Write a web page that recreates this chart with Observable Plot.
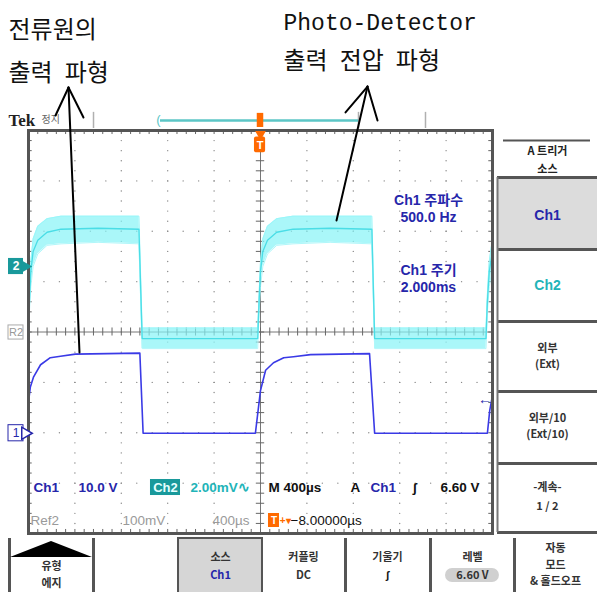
<!DOCTYPE html>
<html><head><meta charset="utf-8">
<script src="https://cdn.jsdelivr.net/npm/d3@7"></script>
<script src="https://cdn.jsdelivr.net/npm/@observablehq/plot@0.6"></script>
<style>html,body{margin:0;padding:0;background:#fff;} #chart svg{display:block;overflow:visible}</style>
</head><body><div id="chart"></div>
<script>
// ===== Trace data (x: screen divisions, 400 µs/div, 0 = trigger; y: screen divisions) =====
const ch1Time = [-5.0, -4.96, -4.89, -4.74, -4.53, -4.31, -3.99, -2.6, -2.53, -0.11, 0.0, 0.11, 0.28, 0.5, 0.71, 1.08, 2.35, 2.46, 4.89, 4.94, 5.0];
const ch1Div  = [-1.39, -1.09, -0.89, -0.65, -0.51, -0.48, -0.44, -0.42, -2.01, -2.01, -1.16, -0.76, -0.61, -0.51, -0.49, -0.45, -0.43, -2.01, -2.01, -1.56, -1.26];

const ch2Time  = [-5.0, -4.98, -4.95, -4.9, -4.8, -4.6, -4.3, -3.5, -2.62, -2.55, -0.06, -0.03, 0.0, 0.05, 0.15, 0.35, 0.7, 1.5, 2.4, 2.46, 4.86, 4.89, 4.93, 5.0];
const ch2Mean  = [-0.13, 0.6, 1.2, 1.6, 1.82, 1.98, 2.04, 2.06, 2.04, -0.13, -0.13, 0.6, 1.2, 1.6, 1.82, 1.98, 2.04, 2.06, 2.04, -0.13, -0.13, 0.6, 1.2, 1.6];
const ch2Upper = [0.08, 0.75, 1.4, 1.85, 2.1, 2.25, 2.3, 2.3, 2.3, 0.08, 0.08, 0.75, 1.4, 1.85, 2.1, 2.25, 2.3, 2.3, 2.3, 0.08, 0.08, 0.75, 1.4, 1.85];
const ch2Lower = [-0.33, 0.4, 0.9, 1.3, 1.55, 1.72, 1.75, 1.78, 1.75, -0.33, -0.33, 0.4, 0.9, 1.3, 1.55, 1.72, 1.75, 1.78, 1.75, -0.33, -0.33, 0.4, 0.9, 1.3];

// ===== Readouts / labels (text, x, y, colour) =====
const BLUE = "#2626aa", CYAN = "#22b4b8", TEAL = "#19999b", ORANGE = "#ff6a00", GRAY = "#9a9a9a";
const annotations = [["전류원의", -5.431, 5.985], ["출력\u2002파형", -5.431, 5.132], ["출력\u2002전압\u2002파형", 0.496, 5.37]];
const pdLabel = [["Photo-Detector", 0.496, 6.144]];
const measureLabels = [["Ch1 주파수", 3.621, 2.61], ["500.0 Hz", 3.621, 2.273], ["Ch1 주기", 3.621, 1.221], ["2.000ms", 3.621, 0.883]];
const readoutRow1 = [["Ch1", -4.892, -3.087, BLUE], ["10.0 V", -3.922, -3.087, BLUE], ["2.00mV∿", -1.509, -3.087, CYAN],
  ["M 400µs", 0.172, -3.087, "#111"], ["A", 1.94, -3.087, "#111"], ["Ch1", 2.37, -3.087, BLUE], ["ʃ", 3.276, -3.087, "#111"], ["6.60 V", 3.879, -3.087, "#111"]];
const readoutRow2 = [["Ref2", -4.957, -3.742, GRAY], ["100mV", -2.974, -3.742, GRAY], ["400µs", -1.034, -3.742, GRAY], ["−8.00000µs", 0.647, -3.742, "#111"]];
const sideLabels = [["A 트리거", 6.185, 3.58, "#222"], ["소스", 6.185, 3.23, "#222"], ["외부", 6.185, -0.32, "#333"], ["(Ext)", 6.185, -0.65, "#333"],
  ["외부/10", 6.185, -1.71, "#333"], ["(Ext/10)", 6.185, -2.04, "#333"], ["-계속-", 6.185, -3.08, "#333"], ["1 / 2", 6.185, -3.47, "#333"]];
const sideChannels = [["Ch1", 6.185, 2.313, BLUE], ["Ch2", 6.185, 0.923, CYAN]];
const bottomLabels = [["유형", -4.504, -4.66, "#333"], ["에지", -4.504, -5.0, "#333"], ["소스", -0.862, -4.48, "#333"], ["Ch1", -0.862, -4.84, BLUE],
  ["커플링", 0.927, -4.48, "#333"], ["DC", 0.927, -4.84, "#333"], ["기울기", 2.737, -4.48, "#333"], ["ʃ", 2.737, -4.84, "#111"],
  ["레벨", 4.569, -4.48, "#333"], ["6.60 V", 4.569, -4.84, "#333"], ["자동", 6.358, -4.29, "#333"], ["모드", 6.358, -4.625, "#333"], ["& 홀드오프", 6.358, -4.96, "#333"]];

// ===== Screen chrome layout (in divisions) =====
const sideSeparators = [1.638, 0.208, -1.181, -2.61, -3.98];
const bottomSeparators = [-5.409, -3.599, 1.832, 3.664, 5.474];
const topMarks = [-3.599, 2.112, 3.556];
const arrowSegments = [
  [[-4.138, 4.854], [-4.418, 4.298]], [[-4.138, 4.854], [-3.815, 4.258]], [[-4.138, 4.854], [-3.901, -0.407]],
  [[2.306, 4.873], [1.832, 4.358]], [[2.306, 4.873], [2.522, 4.199]], [[2.306, 4.873], [1.638, 2.213]]
];

// ---- derived tables ----
const ch1 = ch1Time.map((t, i) => ({t, v: ch1Div[i]}));
const ch2 = ch2Time.map((t, i) => ({t, m: ch2Mean[i], hi: ch2Upper[i], lo: ch2Lower[i]}));
const arrows = arrowSegments.flatMap((s, k) => s.map(([x, y]) => ({x, y, k})));
const minorX = d3.range(-5, 5.001, 0.2), minorY = d3.range(-4, 4.001, 0.2);
const gridV = [-4, -3, -2, -1, 1, 2, 3, 4].flatMap(x => minorY.map(y => ({x, y})));
const gridH = [-3, -2, -1, 1, 2, 3].flatMap(y => d3.range(-5, 5.001, 1/3).map(x => ({x, y})));

const KR = "'Noto Sans CJK KR', sans-serif";
const UI = "'Liberation Sans', 'Noto Sans CJK KR', sans-serif";
const txt = (rows, o) => Plot.text(rows, {x: d => d[1], y: d => d[2], text: d => d[0], fill: d => d[3] ?? "#111", ...o});

const chart = Plot.plot({
  width: 597, height: 592,
  marginLeft: 28, marginRight: 105, marginTop: 130, marginBottom: 59,
  x: {domain: [-5, 5], axis: null},
  y: {domain: [-4, 4], axis: null},
  color: {type: "identity"},
  style: {background: "#fff", fontFamily: UI},
  marks: [
    // graticule
    Plot.dot(gridV, {x: "x", y: "y", r: 0.7, fill: "#8a8a8a"}),
    Plot.dot(gridH, {x: "x", y: "y", r: 0.7, fill: "#8a8a8a"}),
    Plot.ruleY([0], {stroke: "#777", strokeWidth: 1}),
    Plot.ruleX([0], {stroke: "#777", strokeWidth: 1}),
    Plot.ruleX(minorX, {x: d => d, y1: -0.08, y2: 0.08, stroke: "#666"}),
    Plot.ruleY(minorY, {y: d => d, x1: -0.09, x2: 0.09, stroke: "#666"}),
    Plot.ruleX(minorX, {x: d => d, y1: 4, y2: 3.92, stroke: "#666"}),
    Plot.ruleX(minorX, {x: d => d, y1: -4, y2: -3.92, stroke: "#666"}),
    Plot.ruleY(minorY, {y: d => d, x1: -5, x2: -4.92, stroke: "#666"}),
    Plot.ruleY(minorY, {y: d => d, x1: 5, x2: 4.92, stroke: "#666"}),
    // traces
    Plot.areaY(ch2, {x: "t", y1: "lo", y2: "hi", fill: "#86f3f6", fillOpacity: 0.7}),
    Plot.line(ch2, {x: "t", y: "hi", stroke: "#9af6f9", strokeWidth: 1}),
    Plot.line(ch2, {x: "t", y: "lo", stroke: "#b0f7fa", strokeWidth: 1}),
    Plot.line(ch2, {x: "t", y: "m", stroke: "#4adde6", strokeWidth: 1.3}),
    Plot.line(ch1, {x: "t", y: "v", stroke: "#3a3ae6", strokeWidth: 1.6}),
    Plot.frame({stroke: "#555", strokeWidth: 3}),
    // top status bar
    txt([["Tek", -5.431, 4.199]], {textAnchor: "start", fontSize: 17, fontWeight: "bold", fontFamily: "'Liberation Serif', serif", fill: "#222"}),
    txt([["정지", -4.72, 4.22, "#666"]], {textAnchor: "start", fontSize: 10, fontFamily: KR}),
    Plot.ruleX(topMarks, {x: d => d, y1: 4.04, y2: 4.36, stroke: "#b0b0b0", strokeWidth: 1.5}),
    Plot.ruleY([4.199], {x1: -2.155, x2: 2.112, stroke: "#5cc6c6", strokeWidth: 2.5}),
    txt([["(", -2.2, 4.21, "#5cc6c6"]], {fontSize: 13}),
    Plot.rect([0], {x1: -0.07, x2: 0.07, y1: 4.06, y2: 4.34, fill: ORANGE}),
    Plot.dot([0], {x: 0, y: 3.93, symbol: "triangle", r: 4, rotate: 180, fill: ORANGE}),
    Plot.rect([0], {x1: -0.13, x2: 0.11, y1: 3.56, y2: 3.87, fill: ORANGE, rx: 2}),
    txt([["T", -0.01, 3.71, "#fff"]], {fontSize: 11, fontWeight: "bold"}),
    // left channel markers
    Plot.rect([0], {x1: -5.431, x2: -5.108, y1: 1.14, y2: 1.46, fill: TEAL}),
    Plot.dot([0], {x: -5.07, y: 1.3, symbol: "triangle", r: 4.5, rotate: 90, fill: TEAL}),
    txt([["2", -5.27, 1.3, "#fff"]], {fontSize: 12, fontWeight: "bold"}),
    Plot.rect([0], {x1: -5.431, x2: -5.108, y1: -0.15, y2: 0.13, fill: "#fff", stroke: "#aaa"}),
    txt([["R2", -5.27, -0.01, "#999"]], {fontSize: 11}),
    Plot.rect([0], {x1: -5.431, x2: -5.108, y1: -2.17, y2: -1.85, fill: "#fff", stroke: BLUE}),
    Plot.dot([0], {x: -5.07, y: -2.01, symbol: "triangle", r: 4.5, rotate: 90, fill: "#fff", stroke: BLUE}),
    txt([["1", -5.27, -2.01, BLUE]], {fontSize: 12}),
    txt([["←", 4.84, -1.34, BLUE]], {fontSize: 14, fontWeight: "bold"}),
    // measurement readouts
    txt(measureLabels.map(d => [...d, BLUE]), {fontSize: 14, fontWeight: "bold", fontFamily: UI}),
    // bottom readouts
    Plot.rect([0], {x1: -2.371, x2: -1.724, y1: -3.246, y2: -2.928, fill: TEAL}),
    txt([["Ch2", -2.048, -3.087, "#e6ffff"]], {fontSize: 13, fontWeight: "bold"}),
    txt(readoutRow1, {textAnchor: "start", fontSize: 13.5, fontWeight: "bold", fontFamily: UI}),
    Plot.rect([0], {x1: 0.172, x2: 0.409, y1: -3.881, y2: -3.603, fill: ORANGE}),
    txt([["T", 0.29, -3.742, "#fff"]], {fontSize: 10, fontWeight: "bold"}),
    txt([["+▾", 0.415, -3.742, ORANGE]], {textAnchor: "start", fontSize: 10, fontWeight: "bold"}),
    txt(readoutRow2, {textAnchor: "start", fontSize: 13.5, fontFamily: UI}),
    // side menu
    Plot.ruleY([3.801], {x1: 5.237, x2: 7.112, stroke: "#555", strokeWidth: 2}),
    Plot.rect([0], {x1: 5.108, x2: 7.3, y1: 1.658, y2: 3.067, fill: "#dcdcdc"}),
    Plot.ruleY([3.067], {x1: 5.108, x2: 7.3, stroke: "#555", strokeWidth: 3}),
    Plot.ruleY(sideSeparators, {y: d => d, x1: 5.108, x2: 7.3, stroke: "#555", strokeWidth: 3}),
    Plot.ruleX([5.108], {y1: 3.067, y2: -3.98, stroke: "#777", strokeWidth: 2}),
    txt(sideLabels, {fontSize: 11, fontWeight: "bold", fontFamily: KR}),
    txt(sideChannels, {fontSize: 14, fontWeight: "bold", fontFamily: UI}),
    // bottom menu
    Plot.rect([0], {x1: -1.767, x2: 0.043, y1: -5.3, y2: -4.099, fill: "#d6d6d6", stroke: "#555", strokeWidth: 2}),
    Plot.ruleX(bottomSeparators, {x: d => d, y1: -4.099, y2: -5.3, stroke: "#555", strokeWidth: 3}),
    Plot.areaY([{x: -5.388, y: -4.476}, {x: -4.504, y: -4.159}, {x: -3.621, y: -4.476}], {x: "x", y1: -4.476, y2: "y", fill: "#000"}),
    Plot.rect([0], {x1: 3.987, x2: 5.15, y1: -4.973, y2: -4.695, fill: "#d0d0d0", rx: 7}),
    txt(bottomLabels, {fontSize: 11, fontWeight: "bold", fontFamily: KR}),
    // annotations
    txt(annotations, {textAnchor: "start", fontSize: 24, fontFamily: KR, fill: "#111"}),
    txt(pdLabel, {textAnchor: "start", fontSize: 23, fontFamily: "'Liberation Mono', monospace", fill: "#111"}),
    Plot.line(arrows, {x: "x", y: "y", z: "k", stroke: "#000", strokeWidth: 2})
  ]
});
document.getElementById("chart").append(chart);
</script>
</body></html>
